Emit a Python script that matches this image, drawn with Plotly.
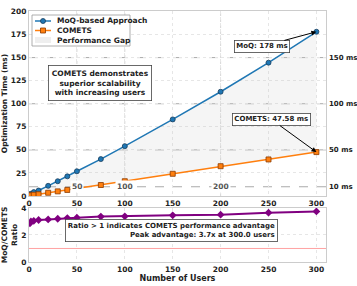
import plotly.graph_objects as go
from plotly.subplots import make_subplots

users = [1, 2, 5, 10, 20, 30, 40, 50, 75, 100, 150, 200, 250, 300]
moq_ms = [1.4, 2.4, 4.2, 5.9, 11.0, 16.0, 21.3, 26.8, 40.0, 54.0, 83.0, 113.0, 144.5, 178.0]
comets_ms = [0.49, 0.8, 1.38, 1.9, 3.49, 5.0, 6.55, 8.17, 11.9, 16.0, 24.06, 32.3, 39.6, 47.58]
ratio = [m / c for m, c in zip(moq_ms, comets_ms)]
hlines = [10, 50, 100, 150]
hline_labels = ["10 ms", "50 ms", "100 ms", "150 ms"]
vlines = [50, 100, 200]
vline_labels = ["50", "100", "200"]
x_ticks = [0, 50, 100, 150, 200, 250, 300]
y_ticks = [0, 25, 50, 75, 100, 125, 150, 175, 200]
y_top = 200
ratio_ticks = [0, 2, 4]
legend_names = ["MoQ-based Approach", "COMETS", "Performance Gap"]

FONT = "DejaVu Sans"
DARK = "#222222"
BLUE = "#1f77b4"
ORANGE = "#ff7f0e"

W, H = 357, 286
ML, MR, MT, MB = 29, 31, 11, 24
PW, PH = W - ML - MR, H - MT - MB


def px(x):
    return (x - ML) / PW


def py(y):
    return (H - MB - y) / PH


fig = make_subplots(rows=2, cols=1, shared_xaxes=False, vertical_spacing=0.05,
                    row_heights=[0.78, 0.22])

fig.add_trace(go.Scatter(x=users + users[::-1], y=moq_ms + comets_ms[::-1], mode="lines",
                         line=dict(width=0), fill="toself", fillcolor="rgba(200,200,200,0.18)",
                         name=legend_names[2], showlegend=False, hoverinfo="skip"), row=1, col=1)
fig.add_trace(go.Scatter(x=users, y=moq_ms, mode="lines+markers", name=legend_names[0],
                         showlegend=False,
                         line=dict(color=BLUE, width=1.5),
                         marker=dict(symbol="circle", size=5, color=BLUE,
                                     line=dict(color="#1a3d5c", width=0.8))), row=1, col=1)
fig.add_trace(go.Scatter(x=users, y=comets_ms, mode="lines+markers", name=legend_names[1],
                         showlegend=False,
                         line=dict(color=ORANGE, width=1.5),
                         marker=dict(symbol="square", size=5, color=ORANGE,
                                     line=dict(color="#8a3a00", width=0.8))), row=1, col=1)

fig.add_trace(go.Scatter(x=users, y=ratio, mode="lines+markers", showlegend=False,
                         line=dict(color="#800080", width=2),
                         marker=dict(symbol="diamond", size=6, color="#800080")), row=2, col=1)

# reference lines
for v, lab in zip(hlines, hline_labels):
    fig.add_shape(type="line", xref="x", yref="y", x0=0, x1=310, y0=v, y1=v,
                  line=dict(color="#aaaaaa", width=1, dash="dash"), layer="below")
    fig.add_annotation(x=1.0, xref="paper", y=v, yref="y", text=lab, showarrow=False,
                       xanchor="left", xshift=1,
                       font=dict(size=7, color=DARK, family=FONT, weight="bold"))
for v, lab in zip(vlines, vline_labels):
    fig.add_shape(type="line", xref="x", yref="y", x0=v, x1=v, y0=0, y1=y_top,
                  line=dict(color="#cccccc", width=0.8, dash="dot"), layer="below")
    fig.add_annotation(x=v, xref="x", y=10, yref="y", text=lab, showarrow=False,
                       yanchor="middle", bgcolor="white",
                       font=dict(size=7.5, color="#555555", family=FONT, weight="bold"))
fig.add_shape(type="line", xref="x2", yref="y2", x0=0, x1=310, y0=1, y1=1,
              line=dict(color="rgba(255,100,100,0.6)", width=1))

# hand-built legend (compact, like the reference)
fig.add_shape(type="rect", xref="paper", yref="paper", x0=px(32), x1=px(130), y0=py(46), y1=py(15),
              line=dict(color="#999999", width=0.8), fillcolor="white")
ly = [21, 30.5, 40]
fig.add_shape(type="line", xref="paper", yref="paper", x0=px(35), x1=px(51), y0=py(ly[0]), y1=py(ly[0]),
              line=dict(color=BLUE, width=1.5))
fig.add_shape(type="circle", xref="paper", yref="paper", x0=px(40.5), x1=px(45.5),
              y0=py(ly[0] + 2.5), y1=py(ly[0] - 2.5),
              line=dict(color="#1a3d5c", width=0.8), fillcolor=BLUE)
fig.add_shape(type="line", xref="paper", yref="paper", x0=px(35), x1=px(51), y0=py(ly[1]), y1=py(ly[1]),
              line=dict(color=ORANGE, width=1.5))
fig.add_shape(type="rect", xref="paper", yref="paper", x0=px(40.5), x1=px(45.5),
              y0=py(ly[1] + 2.5), y1=py(ly[1] - 2.5),
              line=dict(color="#8a3a00", width=0.8), fillcolor=ORANGE)
fig.add_shape(type="rect", xref="paper", yref="paper", x0=px(35), x1=px(51),
              y0=py(ly[2] + 3), y1=py(ly[2] - 3),
              line=dict(width=0), fillcolor="rgba(238,238,238,1)")
for name, yy in zip(legend_names, ly):
    fig.add_annotation(x=px(55), y=py(yy), xref="paper", yref="paper", text=name, showarrow=False,
                       xanchor="left", yanchor="middle",
                       font=dict(size=7.5, color=DARK, family=FONT, weight="bold"))

# annotations
fig.add_annotation(x=74, y=122, xref="x", yref="y",
                   text="COMETS demonstrates<br>superior scalability<br>with increasing users",
                   showarrow=False, align="center", bgcolor="white", bordercolor="#444444",
                   borderwidth=0.8, borderpad=3,
                   font=dict(size=7.5, color=DARK, family=FONT, weight="bold"))
fig.add_annotation(x=300, y=178, xref="x", yref="y", ax=243, ay=162, axref="x", ayref="y",
                   text="MoQ: 178 ms", showarrow=True, arrowhead=2, arrowsize=1, arrowwidth=1,
                   arrowcolor="black", bgcolor="white", bordercolor="#444444", borderwidth=0.8,
                   borderpad=1.5, font=dict(size=7, color=DARK, family=FONT, weight="bold"))
fig.add_annotation(x=300, y=47.58, xref="x", yref="y", ax=253, ay=83, axref="x", ayref="y",
                   text="COMETS: 47.58 ms", showarrow=True, arrowhead=2, arrowsize=1, arrowwidth=1,
                   arrowcolor="black", bgcolor="white", bordercolor="#444444", borderwidth=0.8,
                   borderpad=1.5, font=dict(size=7, color=DARK, family=FONT, weight="bold"))
fig.add_annotation(x=149, y=2.3, xref="x2", yref="y2",
                   text="Ratio > 1 indicates COMETS performance advantage<br>Peak advantage: 3.7x at 300.0 users",
                   showarrow=False, align="right", bgcolor="white", bordercolor="#444444",
                   borderwidth=0.8, borderpad=2,
                   font=dict(size=7, color=DARK, family=FONT, weight="bold"))

axis_common = dict(showline=True, linecolor="#cccccc", mirror=True, ticks="",
                   gridcolor="#e6e6e6", griddash="dot", zeroline=False, automargin=False,
                   ticklabeloverflow="allow",
                   tickfont=dict(size=7.5, color=DARK, family=FONT, weight="bold"))
fig.update_xaxes(range=[0, 310], tickvals=x_ticks, **axis_common)
fig.update_xaxes(title=dict(text="Number of Users", standoff=2,
                            font=dict(size=8, color=DARK, family=FONT, weight="bold")), row=2, col=1)
fig.update_yaxes(**axis_common)
fig.update_yaxes(range=[0, y_top + 0.5], tickvals=y_ticks, row=1, col=1,
                 title=dict(text="Optimization Time (ms)", standoff=3,
                            font=dict(size=7.5, color=DARK, family=FONT, weight="bold")))
fig.update_yaxes(range=[0, 4.01], tickvals=ratio_ticks, row=2, col=1,
                 title=dict(text="MoQ/COMETS<br>Ratio", standoff=3,
                            font=dict(size=7.5, color=DARK, family=FONT, weight="bold")))

fig.update_layout(
    width=W, height=H, margin=dict(l=ML, r=MR, t=MT, b=MB),
    plot_bgcolor="white", paper_bgcolor="white", showlegend=False,
    font=dict(family=FONT, size=7.5, color=DARK),
)
fig.update_layout(yaxis=dict(domain=[0.263, 1.0]), yaxis2=dict(domain=[0.0, 0.216]))

fig.write_html("out.html", config={"displayModeBar": False},
               post_script="document.body.style.margin='0';")
